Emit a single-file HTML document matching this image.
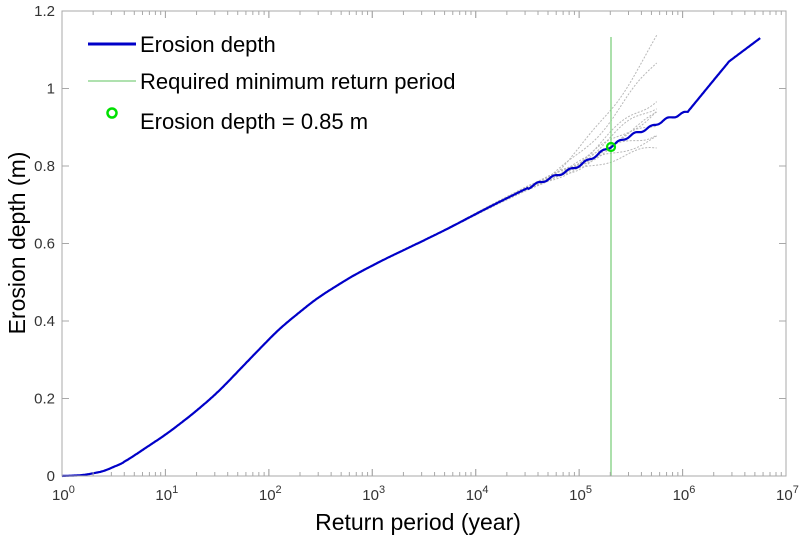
<!DOCTYPE html>
<html><head><meta charset="utf-8"><style>
html,body{margin:0;padding:0;background:#fff;width:800px;height:539px;overflow:hidden}
svg{display:block}
</style></head><body>
<svg id="s" width="800" height="539" xmlns="http://www.w3.org/2000/svg" font-family="Liberation Sans, sans-serif">
<rect width="800" height="539" fill="#fff"/>
<g id="grey"></g>
<line x1="611" y1="37" x2="611" y2="476" stroke="#7fcf7f" stroke-width="1.3"/>
<path id="main" fill="none" stroke="#0000c8" stroke-width="2.2"/>
<circle cx="611" cy="147" r="4" fill="none" stroke="#00e000" stroke-width="2.2"/>
<rect x="62" y="11" width="724" height="465" fill="none" stroke="#a8a8a8" stroke-width="1"/>
<g id="ticks" stroke="#a8a8a8" stroke-width="1"></g>
<g fill="#333" font-size="15" id="lbl"></g>
<g font-size="22" fill="#000" font-family="Liberation Sans, sans-serif">
<line x1="88" y1="44" x2="136" y2="44" stroke="#0000c8" stroke-width="3"/>
<text x="140" y="52">Erosion depth</text>
<line x1="88" y1="81" x2="136" y2="81" stroke="#7fcf7f" stroke-width="1.3"/>
<text x="140" y="89">Required minimum return period</text>
<circle cx="112" cy="113" r="4.5" fill="none" stroke="#00e000" stroke-width="2.5"/>
<text x="140" y="129">Erosion depth = 0.85 m</text>
</g>
<text x="418" y="530" font-size="23" text-anchor="middle">Return period (year)</text>
<text transform="translate(25,243) rotate(-90)" font-size="23" text-anchor="middle">Erosion depth (m)</text>
</svg>
<script>
var X=function(l){return 62+l*103.43},Y=function(v){return 476-v*387.5};
var pts=[[-1,0],[0,0],[0.2,0.002],[0.4,0.012],[0.6,0.035],[0.85,0.08],[1,0.106],[1.25,0.157],[1.5,0.214],[1.82,0.303],[2.1,0.38],[2.46,0.458],[2.8,0.515],[3.1,0.557],[3.5,0.608],[3.75,0.641],[4.1,0.69],[4.52,0.746],[5,0.80],[5.3,0.85],[5.5,0.88],[5.7,0.90],[5.85,0.924],[5.95,0.93],[6.05,0.94],[6.45,1.07],[6.75,1.13],[7,1.16]];
function lin(l){for(var i=1;i<pts.length;i++){if(l<=pts[i][0]){var a=pts[i-1],b=pts[i];return a[1]+(b[1]-a[1])*(l-a[0])/(b[0]-a[0]);}}return 1.16;}
function interp(l){if(l>=5.9)return lin(l);var w=l<0.6?0.08:0.18,s=0,n=0;for(var k=-10;k<=10;k++){var ww=Math.exp(-k*k/30);s+=lin(l+k*w/10)*ww;n+=ww;}return Math.max(0,s/n);}
var d="";
for(var l=0;l<=6.751;l+=0.01){var v=interp(l);if(l>4.5&&l<6.05)v+=0.003*Math.sin(l*40);d+=(d?"L":"M")+X(l).toFixed(1)+" "+Y(v).toFixed(1);}
document.getElementById("main").setAttribute("d",d);
var g=document.getElementById("grey"),ns="http://www.w3.org/2000/svg";
var ends=[1.13,1.07,0.98,0.94,0.93,0.91,0.89,0.87,0.84,0.96];
for(var k=0;k<ends.length;k++){var dd="";var seed=k*1.7;
for(var l=3.5;l<=5.76;l+=0.03){var base=interp(l);var t=Math.max(0,(l-4.6)/(5.76-4.6));var endBase=interp(5.76);var v=base+(ends[k]-endBase)*Math.pow(t,1.6)+0.012*Math.sin(l*9+seed)*((l-3.5)/2.3);dd+=(dd?"L":"M")+X(l).toFixed(1)+" "+Y(v).toFixed(1);}
var p=document.createElementNS(ns,"path");p.setAttribute("d",dd);p.setAttribute("fill","none");p.setAttribute("stroke","#b8b8b8");p.setAttribute("stroke-width","1");p.setAttribute("stroke-dasharray","2 1.5");g.appendChild(p);}
var tk=document.getElementById("ticks"),lb=document.getElementById("lbl");
function ln(x1,y1,x2,y2){var e=document.createElementNS(ns,"line");e.setAttribute("x1",x1);e.setAttribute("y1",y1);e.setAttribute("x2",x2);e.setAttribute("y2",y2);tk.appendChild(e);}
for(var dc=0;dc<7;dc++)for(var m=1;m<=10;m++){var x=X(dc+Math.log10(m));var len=(m==1||m==10)?7:4;ln(x,476,x,476-len);ln(x,11,x,11+len);}
for(var dc=0;dc<=7;dc++){var t=document.createElementNS(ns,"text");t.setAttribute("x",X(dc)-10);t.setAttribute("y",500);t.innerHTML="10<tspan font-size='11' dy='-7'>"+dc+"</tspan>";lb.appendChild(t);}
for(var i=0;i<=6;i++){var v=i*0.2,y=Y(v);ln(62,y,69,y);ln(786,y,779,y);var t=document.createElementNS(ns,"text");t.setAttribute("x",55);t.setAttribute("y",y+5);t.setAttribute("text-anchor","end");t.textContent=(i==0?"0":(i==5?"1":v.toFixed(1)));lb.appendChild(t);}
</script>
</body></html>
